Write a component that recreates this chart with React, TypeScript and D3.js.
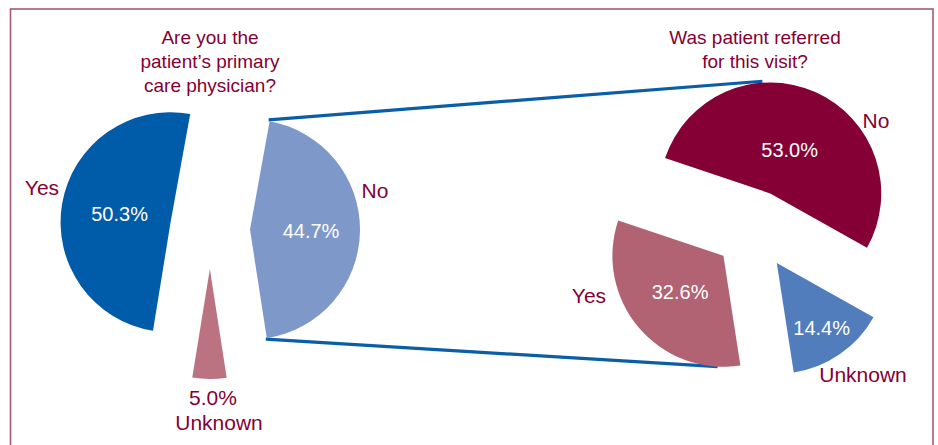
import React from "react";
import * as d3 from "d3";

// ---------- data ----------
const leftCategories = ["Yes", "No", "Unknown"];
const leftValues = [50.3, 44.7, 5.0];
const leftTitle = ["Are you the", "patient’s primary", "care physician?"];

const rightCategories = ["Yes", "No", "Unknown"];
const rightValues = [32.6, 53.0, 14.4];
const rightTitle = ["Was patient referred", "for this visit?"];

// ---------- styles / layout ----------
const W = 938;
const H = 445;
const textColor = "#850035";
const lineColor = "#0a5ea8";
const frameColor = "#a8596f";
const font = "'Liberation Sans', Arial, Helvetica, sans-serif";

const leftColors = ["#005ba8", "#7f98ca", "#bb7381"];
const rightColors = ["#b16273", "#850035", "#527dbc"];

const deg = (a: number) => (a * Math.PI) / 180;

type PieCfg = {
  cx: number;
  cy: number;
  r: number;
  explode: number;
  start: number;
  values: number[];
  colors: string[];
  labelFactor: number[];
  showInside: boolean[];
};

const leftCfg: PieCfg = {
  cx: 210,
  cy: 229,
  r: 110,
  explode: 40,
  start: 189.2,
  values: leftValues,
  colors: leftColors,
  labelFactor: [0.47, 0.555, 0],
  showInside: [true, true, false],
};

const rightCfg: PieCfg = {
  cx: 754,
  cy: 230,
  r: 111,
  explode: 40,
  start: 171.2,
  values: rightValues,
  colors: rightColors,
  labelFactor: [0.51, 0.43, 0.71],
  showInside: [true, true, true],
};

function layoutPie(cfg: PieCfg) {
  const pie = d3
    .pie<number>()
    .sort(null)
    .value((d) => d)
    .startAngle(deg(cfg.start))
    .endAngle(deg(cfg.start + 360));
  const arcs = pie(cfg.values);
  return arcs.map((a, i) => {
    const mid = (a.startAngle + a.endAngle) / 2;
    const ax = cfg.cx + cfg.explode * Math.sin(mid);
    const ay = cfg.cy - cfg.explode * Math.cos(mid);
    const lf = cfg.labelFactor[i] * cfg.r;
    return {
      arc: a,
      mid,
      ax,
      ay,
      lx: ax + lf * Math.sin(mid),
      ly: ay - lf * Math.cos(mid),
      color: cfg.colors[i],
    };
  });
}

const fmt = (v: number) => `${v.toFixed(1)}%`;

export default function App() {
  const arcGen = d3.arc<d3.PieArcDatum<number>>().innerRadius(0);
  const left = layoutPie(leftCfg);
  const right = layoutPie(rightCfg);

  // connector points: corners of left "No" slice to right pie top/bottom
  const lNo = left[1];
  const p = (sx: number, sy: number, r: number, a: number) => [
    sx + r * Math.sin(a),
    sy - r * Math.cos(a),
  ];
  const [lt1x, lt1y] = p(lNo.ax, lNo.ay, leftCfg.r, lNo.arc.startAngle);
  const [lb1x, lb1y] = p(lNo.ax, lNo.ay, leftCfg.r, lNo.arc.endAngle);
  const rNo = right[1];
  const rYes = right[0];
  const [rtx, rty] = p(rNo.ax, rNo.ay, rightCfg.r + 1.5, deg(-4));
  const [rbx, rby] = p(rYes.ax, rYes.ay, rightCfg.r, deg(183));

  const textProps = {
    fontFamily: font,
    fill: textColor,
    textAnchor: "middle" as const,
  };

  return (
    <svg
      width={W}
      height={H}
      viewBox={`0 0 ${W} ${H}`}
      style={{ position: "absolute", left: 0, top: 0, background: "#fff" }}
    >
      <rect x={0} y={0} width={W} height={H} fill="#fff" />
      <rect
        x={10.5}
        y={9}
        width={922.5}
        height={460}
        fill="none"
        stroke={frameColor}
        strokeWidth={1.6}
      />

      {/* connectors */}
      <line x1={lt1x - 1} y1={lt1y - 1.5} x2={rtx} y2={rty} stroke={lineColor} strokeWidth={3.2} />
      <line x1={lb1x - 1} y1={lb1y + 1} x2={rbx} y2={rby} stroke={lineColor} strokeWidth={3.2} />

      {/* left pie */}
      {left.map((s, i) => (
        <path
          key={"l" + i}
          d={arcGen.outerRadius(leftCfg.r)(s.arc) || ""}
          transform={`translate(${s.ax},${s.ay})`}
          fill={s.color}
        />
      ))}
      {/* right pie */}
      {right.map((s, i) => (
        <path
          key={"r" + i}
          d={arcGen.outerRadius(rightCfg.r)(s.arc) || ""}
          transform={`translate(${s.ax},${s.ay})`}
          fill={s.color}
        />
      ))}

      {/* inside percentage labels */}
      {left.map((s, i) =>
        leftCfg.showInside[i] ? (
          <text key={"lp" + i} x={s.lx} y={s.ly} dy="0.36em" fontFamily={font} fontSize={20} fill="#fff" textAnchor="middle">
            {fmt(leftValues[i])}
          </text>
        ) : null
      )}
      {right.map((s, i) =>
        rightCfg.showInside[i] ? (
          <text key={"rp" + i} x={s.lx} y={s.ly} dy="0.36em" fontFamily={font} fontSize={20} fill="#fff" textAnchor="middle">
            {fmt(rightValues[i])}
          </text>
        ) : null
      )}

      {/* outer category labels */}
      <g {...textProps} fontSize={21}>
        <text x={42} y={195}>{leftCategories[0]}</text>
        <text x={375} y={198}>{leftCategories[1]}</text>
        <text x={213} y={405}>{fmt(leftValues[2])}</text>
        <text x={219} y={430}>{leftCategories[2]}</text>
        <text x={589} y={303}>{rightCategories[0]}</text>
        <text x={876} y={128}>{rightCategories[1]}</text>
        <text x={863} y={382}>{rightCategories[2]}</text>
      </g>

      {/* titles */}
      <g {...textProps} fontSize={19}>
        {leftTitle.map((t, i) => (
          <text key={"lt" + i} x={210} y={44 + i * 24}>
            {t}
          </text>
        ))}
        {rightTitle.map((t, i) => (
          <text key={"rt" + i} x={755} y={44 + i * 24}>
            {t}
          </text>
        ))}
      </g>
    </svg>
  );
}
